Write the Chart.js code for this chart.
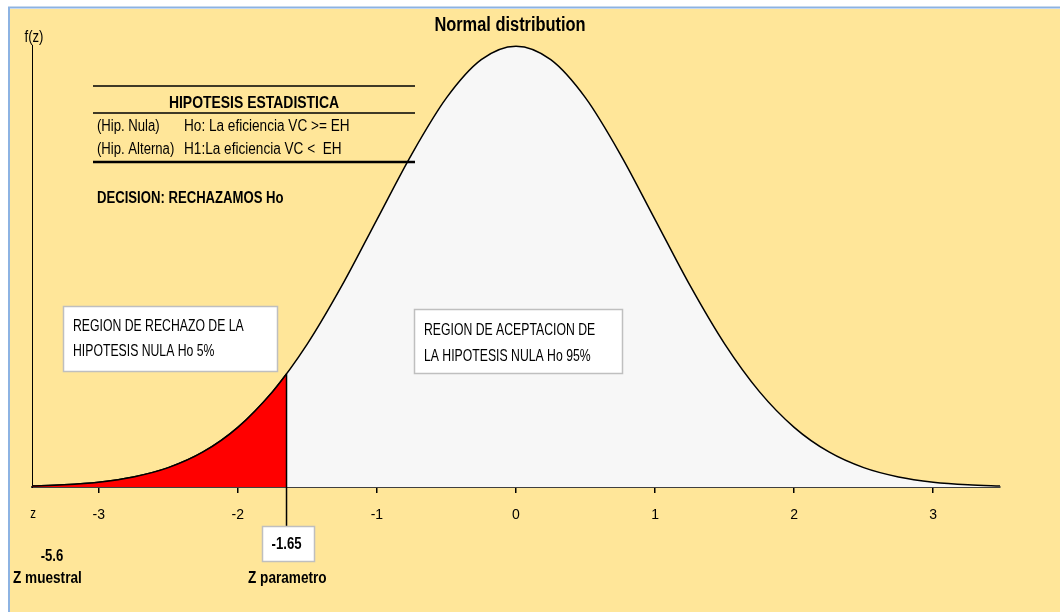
<!DOCTYPE html>
<html>
<head>
<meta charset="utf-8">
<script src="https://cdn.jsdelivr.net/npm/chart.js@4"></script>
<style>
  html, body { margin:0; padding:0; background:#fff; }
  #wrap { width:1060px; height:612px; }
</style>
</head>
<body>
<div id="wrap"><canvas id="normChart" width="1060" height="612"></canvas></div>
<script>
// curve (z, f(z))
const zValues = [-3.5,-3.25,-3,-2.75,-2.5,-2.25,-2,-1.75,-1.5,-1.25,-1,-0.75,-0.5,-0.25,0,0.25,0.5,0.75,1,1.25,1.5,1.75,2,2.25,2.5,2.75,3,3.25,3.5];
const fValues = [0.0009,0.0020,0.0044,0.0091,0.0175,0.0317,0.0540,0.0863,0.1295,0.1826,0.2420,0.3011,0.3521,0.3867,0.3989,0.3867,0.3521,0.3011,0.2420,0.1826,0.1295,0.0863,0.0540,0.0317,0.0175,0.0091,0.0044,0.0020,0.0009];
// rejection tail, up to z critical
const rejZ = [-3.5,-3.25,-3,-2.75,-2.5,-2.25,-2,-1.75,-1.65];
const rejF = [0.0009,0.0020,0.0044,0.0091,0.0175,0.0317,0.0540,0.0863,0.1023];
const tickValues = [-3,-2,-1,0,1,2,3];
const zCritical = -1.65;
const zCriticalF = 0.1023;
const zSample = -5.6;

const FONT = "'Liberation Sans', Arial, sans-serif";

const toPts = (xs, ys) => xs.map((x, i) => ({ x: x, y: ys[i] }));

// narrow text: squeeze horizontally like Arial Narrow
function txt(ctx, s, x, y, font, align, sx) {
  ctx.save();
  ctx.translate(x, y);
  ctx.scale(sx || 0.82, 1);
  ctx.font = font;
  ctx.textAlign = align || 'left';
  ctx.textBaseline = 'middle';
  ctx.fillStyle = '#000';
  ctx.fillText(s, 0, 0);
  ctx.restore();
}

function box(ctx, x1, y1, x2, y2) {
  ctx.fillStyle = '#fff';
  ctx.fillRect(x1, y1, x2 - x1, y2 - y1);
  ctx.strokeStyle = '#BFBFBF';
  ctx.lineWidth = 1.5;
  ctx.strokeRect(x1 + 0.5, y1 + 0.5, x2 - x1, y2 - y1);
}

const decorPlugin = {
  id: 'decor',
  beforeDraw(chart) {
    const ctx = chart.ctx;
    ctx.save();
    ctx.fillStyle = '#fff';
    ctx.fillRect(0, 0, chart.width, chart.height);
    ctx.fillStyle = '#FFE699';
    ctx.fillRect(10, 9, chart.width - 10, chart.height - 9);
    ctx.strokeStyle = '#8DB3E2';
    ctx.lineWidth = 2;
    ctx.beginPath();
    ctx.moveTo(9, chart.height); ctx.lineTo(9, 7.5); ctx.lineTo(chart.width, 7.5);
    ctx.stroke();
    ctx.restore();
  },
  afterDatasetsDraw(chart) {
    const ctx = chart.ctx;
    const xs = chart.scales.x, ys = chart.scales.y;
    ctx.save();
    // critical value line
    const xc = xs.getPixelForValue(zCritical);
    ctx.strokeStyle = '#000';
    ctx.lineWidth = 1.5;
    ctx.beginPath();
    ctx.moveTo(xc, ys.getPixelForValue(zCriticalF));
    ctx.lineTo(xc, 526);
    ctx.stroke();
    ctx.restore();
  },
  afterDraw(chart) {
    const ctx = chart.ctx;
    const xs = chart.scales.x;
    ctx.save();
    txt(ctx, 'Normal distribution', 510, 25, 'bold 20px ' + FONT, 'center');
    txt(ctx, 'f(z)', 34, 38, '16px ' + FONT, 'center');
    txt(ctx, 'z', 33, 514, '14px ' + FONT, 'center');

    // hypothesis block
    ctx.strokeStyle = '#000';
    ctx.lineWidth = 1.5;
    ctx.beginPath();
    ctx.moveTo(93, 86); ctx.lineTo(415, 86);
    ctx.moveTo(93, 113); ctx.lineTo(415, 113);
    ctx.stroke();
    ctx.lineWidth = 2.5;
    ctx.beginPath();
    ctx.moveTo(93, 162); ctx.lineTo(415, 162);
    ctx.stroke();
    txt(ctx, 'HIPOTESIS ESTADISTICA', 254, 103, 'bold 17px ' + FONT, 'center');
    txt(ctx, '(Hip. Nula)', 97, 127, '16px ' + FONT);
    txt(ctx, 'Ho: La eficiencia VC >= EH', 184, 127, '16px ' + FONT, 'left', 0.85);
    txt(ctx, '(Hip. Alterna)', 97, 150, '16px ' + FONT);
    txt(ctx, 'H1:La eficiencia VC <  EH', 184, 150, '16px ' + FONT, 'left', 0.85);
    txt(ctx, 'DECISION: RECHAZAMOS Ho', 97, 199, 'bold 16px ' + FONT);

    // region boxes
    box(ctx, 63, 306, 277, 371);
    txt(ctx, 'REGION DE RECHAZO DE LA', 73, 326, '17px ' + FONT, 'left', 0.72);
    txt(ctx, 'HIPOTESIS NULA Ho 5%', 73, 351, '17px ' + FONT, 'left', 0.72);
    box(ctx, 414, 309, 622, 373);
    txt(ctx, 'REGION DE ACEPTACION DE', 424, 330, '17px ' + FONT, 'left', 0.72);
    txt(ctx, 'LA HIPOTESIS NULA Ho 95%', 424, 356, '17px ' + FONT, 'left', 0.72);

    // critical + sample values
    const xc = xs.getPixelForValue(zCritical);
    box(ctx, 262, 526, 314, 561);
    txt(ctx, String(zCritical), xc, 545, 'bold 16px ' + FONT, 'center');
    txt(ctx, 'Z parametro', 248, 579, 'bold 16px ' + FONT, 'left', 0.85);
    txt(ctx, String(zSample), 52, 557, 'bold 16px ' + FONT, 'center');
    txt(ctx, 'Z muestral', 13, 579, 'bold 16px ' + FONT, 'left', 0.85);
    ctx.restore();
  }
};

new Chart(document.getElementById('normChart'), {
  type: 'line',
  data: {
    datasets: [
      { data: toPts(zValues, fValues), borderColor: '#000', borderWidth: 1.5, backgroundColor: '#F7F7F7',
        fill: 'origin', pointRadius: 0, cubicInterpolationMode: 'monotone', order: 2, clip: 0 },
      { data: toPts(rejZ, rejF), borderColor: '#000', borderWidth: 1.5, backgroundColor: '#FF0000',
        fill: 'origin', pointRadius: 0, cubicInterpolationMode: 'monotone', order: 1, clip: 0 }
    ]
  },
  plugins: [decorPlugin],
  options: {
    responsive: false,
    animation: false,
    events: [],
    layout: { padding: { left: 32, right: 60, top: 45, bottom: 85 } },
    plugins: { legend: { display: false }, tooltip: { enabled: false }, title: { display: false } },
    scales: {
      x: {
        type: 'linear', min: -3.48, max: 3.48,
        afterFit: (s) => { s.height = 40; },
        afterBuildTicks: (s) => { s.ticks = tickValues.map(v => ({ value: v })); },
        grid: { drawOnChartArea: false, drawTicks: true, tickLength: 6, color: '#000', lineWidth: 1.5 },
        border: { display: true, color: '#404040', width: 2 },
        ticks: { color: '#000', padding: 14, font: { family: FONT, size: 14 }, maxRotation: 0, autoSkip: false,
                 callback: (v) => String(v) }
      },
      y: {
        min: 0, max: 0.4,
        afterFit: (s) => { s.width = 0; },
        grid: { display: false },
        border: { display: true, color: '#000', width: 1 },
        ticks: { display: false }
      }
    }
  }
});
</script>
</body>
</html>
